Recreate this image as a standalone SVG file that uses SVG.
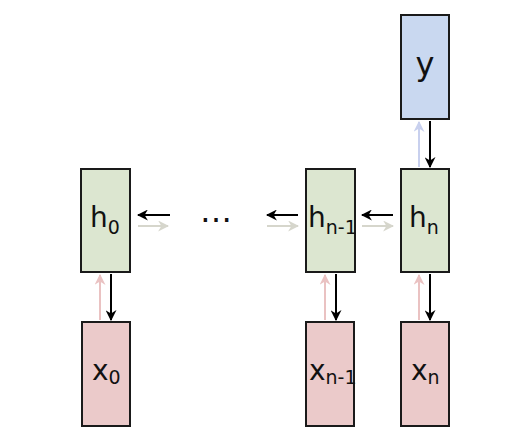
<svg xmlns="http://www.w3.org/2000/svg" width="530" height="442" viewBox="0 0 530 442">
<defs>
<style>
.box{stroke:#1a1a1a;stroke-width:2}
.h{fill:#dce6d0}.x{fill:#ebcaca}.y{fill:#c9d8f0}
.t{font-family:"DejaVu Sans",sans-serif;font-size:28px;fill:#111}
.s{font-size:19px}
.k{stroke:#000;stroke-width:2;fill:none}
.g{stroke:#d6d6cc;stroke-width:2;fill:none}
.p{stroke:#eac2c2;stroke-width:2;fill:none}
.b{stroke:#c8d0ee;stroke-width:2;fill:none}
</style>
<marker id="mk" viewBox="0 0 10 10" refX="9" refY="5" markerWidth="5.5" markerHeight="5.5" orient="auto"><path d="M0,0 L10,5 L0,10 L3,5 Z" fill="#000"/></marker>
<marker id="mg" viewBox="0 0 10 10" refX="9" refY="5" markerWidth="5.5" markerHeight="5.5" orient="auto"><path d="M0,0 L10,5 L0,10 L3,5 Z" fill="#d6d6cc"/></marker>
<marker id="mp" viewBox="0 0 10 10" refX="9" refY="5" markerWidth="5.5" markerHeight="5.5" orient="auto"><path d="M0,0 L10,5 L0,10 L3,5 Z" fill="#eac2c2"/></marker>
<marker id="mb" viewBox="0 0 10 10" refX="9" refY="5" markerWidth="5.5" markerHeight="5.5" orient="auto"><path d="M0,0 L10,5 L0,10 L3,5 Z" fill="#c8d0ee"/></marker>
</defs>
<rect width="530" height="442" fill="#fff"/>
<g id="connectors">
<line class="k" x1="170" y1="215" x2="138" y2="215" marker-end="url(#mk)"/>
<line class="g" x1="138" y1="226" x2="168" y2="226" marker-end="url(#mg)"/>
<line class="k" x1="298" y1="215" x2="267" y2="215" marker-end="url(#mk)"/>
<line class="g" x1="267" y1="226" x2="298" y2="226" marker-end="url(#mg)"/>
<line class="k" x1="393" y1="215" x2="362" y2="215" marker-end="url(#mk)"/>
<line class="g" x1="362" y1="226" x2="393" y2="226" marker-end="url(#mg)"/>
<line class="k" x1="430" y1="121" x2="430" y2="167" marker-end="url(#mk)"/>
<line class="b" x1="419" y1="167" x2="419" y2="122" marker-end="url(#mb)"/>
<line class="k" x1="111" y1="274" x2="111" y2="320" marker-end="url(#mk)"/>
<line class="p" x1="100" y1="320" x2="100" y2="275" marker-end="url(#mp)"/>
<line class="k" x1="336" y1="274" x2="336" y2="320" marker-end="url(#mk)"/>
<line class="p" x1="325" y1="320" x2="325" y2="275" marker-end="url(#mp)"/>
<line class="k" x1="430" y1="274" x2="430" y2="320" marker-end="url(#mk)"/>
<line class="p" x1="419" y1="320" x2="419" y2="275" marker-end="url(#mp)"/>
</g>
<g id="node-y"><rect class="box y" x="401" y="15" width="48" height="104"/><text class="t" x="425" y="75" text-anchor="middle" style="font-size:32px">y</text></g>
<g id="node-h0"><rect class="box h" x="81" y="169" width="49" height="103"/><text class="t" x="90" y="227">h<tspan class="s" dy="7">0</tspan></text></g>
<g id="node-dots"><text class="t" x="216" y="222" text-anchor="middle" style="font-size:32px">…</text></g>
<g id="node-hn1"><rect class="box h" x="306" y="169" width="49" height="103"/><text class="t" x="308" y="227">h<tspan class="s" dy="7">n-1</tspan></text></g>
<g id="node-hn"><rect class="box h" x="401" y="169" width="48" height="103"/><text class="t" x="409" y="227">h<tspan class="s" dy="7">n</tspan></text></g>
<g id="node-x0"><rect class="box x" x="82" y="322" width="48" height="104"/><text class="t" x="92" y="380">x<tspan class="s" dy="4">0</tspan></text></g>
<g id="node-xn1"><rect class="box x" x="306" y="322" width="48" height="104"/><text class="t" x="309" y="380">x<tspan class="s" dy="4">n-1</tspan></text></g>
<g id="node-xn"><rect class="box x" x="401" y="322" width="48" height="104"/><text class="t" x="411" y="380">x<tspan class="s" dy="4">n</tspan></text></g>
</svg>
